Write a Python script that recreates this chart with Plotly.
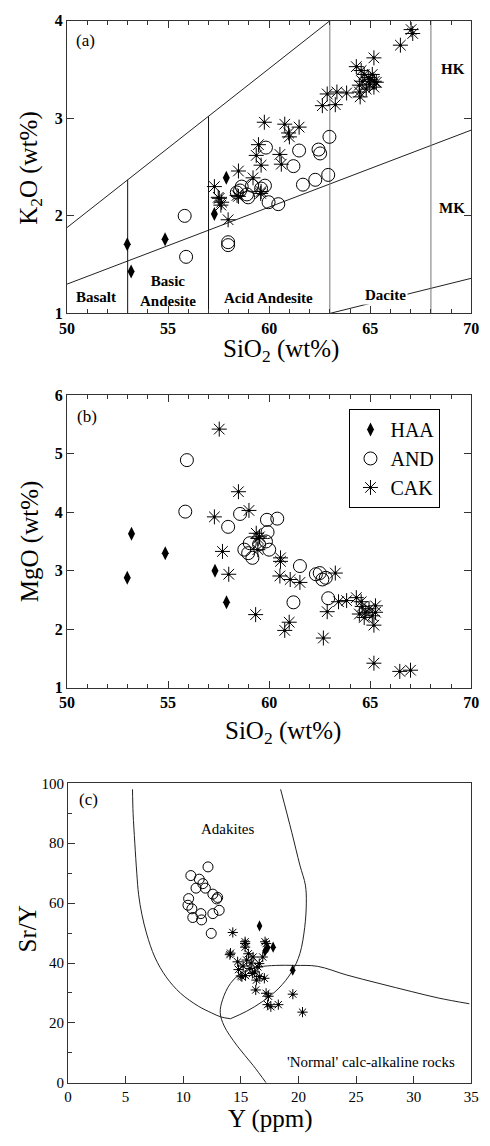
import plotly.graph_objects as go

# ---------------- Panel (a): K2O vs SiO2 ----------------
haa_a_sio2 = [57.88, 57.29, 52.98, 54.85, 53.17]
haa_a_k2o = [2.39, 2.02, 1.71, 1.76, 1.43]

and_a_sio2 = [59.84, 61.48, 62.44, 62.52, 62.98, 61.2, 61.67, 62.28, 62.92, 58.64, 59.15, 59.79,
              58.96, 58.56, 59.97, 58.4, 60.45, 55.82, 55.89, 57.97, 57.97, 58.9, 59.6]
and_a_k2o = [2.70, 2.67, 2.68, 2.64, 2.81, 2.51, 2.32, 2.37, 2.42, 2.30, 2.31, 2.31,
             2.19, 2.26, 2.14, 2.24, 2.12, 2.0, 1.58, 1.73, 1.70, 2.22, 2.28]

cak_a_sio2 = [67.02, 67.1, 66.49, 65.18, 64.31, 64.55, 64.7, 64.9, 65.0, 65.2,
              64.6, 64.95, 65.3, 65.18, 64.46, 64.46, 64.5, 63.83, 63.35, 62.87,
              62.63, 63.27, 59.76, 60.77, 61.48, 60.96, 61.0, 59.47, 59.36, 59.6,
              60.53, 60.6, 58.48, 59.2, 57.29, 57.48, 57.65, 58.41, 59.6, 57.53,
              57.61, 57.97, 58.48, 59.58, 65.1, 64.8]
cak_a_k2o = [3.91, 3.87, 3.75, 3.62, 3.53, 3.49, 3.45, 3.42, 3.40, 3.38,
             3.38, 3.35, 3.37, 3.32, 3.34, 3.27, 3.22, 3.26, 3.27, 3.25,
             3.13, 3.14, 2.96, 2.94, 2.91, 2.85, 2.81, 2.73, 2.62, 2.52,
             2.63, 2.53, 2.46, 2.39, 2.30, 2.19, 2.14, 2.21, 2.25, 2.18,
             2.11, 1.96, 2.20, 2.23, 3.45, 3.30]

# classification boundaries (a)
hk_upper_x = [50, 63]
hk_upper_y = [1.88, 4.0]
hk_mk_x = [50, 70]
hk_mk_y = [1.30, 2.88]
mk_low_x = [63, 70]
mk_low_y = [1.0, 1.36]
div_x = [53, 57, 63, 68]
div_top = [2.37, 3.02, 4.0, 4.0]
div_colors = ["#111", "#111", "#777", "#777"]

# ---------------- Panel (b): MgO vs SiO2 ----------------
haa_b_sio2 = [53.19, 54.86, 52.98, 57.32, 57.89]
haa_b_mgo = [3.63, 3.30, 2.88, 3.00, 2.46]

and_b_sio2 = [55.93, 55.85, 58.56, 57.97, 59.89, 60.4, 59.92, 58.77, 59.04, 58.96,
              60.0, 59.84, 59.17, 61.52, 62.31, 62.5, 62.63, 62.92, 61.2, 62.8, 59.5]
and_b_mgo = [4.89, 4.01, 3.97, 3.75, 3.87, 3.89, 3.66, 3.36, 3.47, 3.30,
             3.36, 3.50, 3.22, 3.08, 2.94, 2.96, 2.85, 2.53, 2.46, 2.88, 3.45]

cak_b_sio2 = [57.53, 58.48, 57.29, 59.0, 57.69, 59.36, 59.52, 59.44, 60.56, 58.0,
              59.33, 60.53, 60.56, 61.04, 61.52, 60.77, 60.99, 62.68, 62.87, 63.27,
              63.43, 63.83, 64.31, 64.55, 64.6, 64.46, 64.78, 64.94, 65.1, 65.26,
              65.26, 65.18, 64.7, 65.18, 66.46, 66.99, 59.45]
cak_b_mgo = [5.42, 4.35, 3.92, 4.03, 3.33, 3.64, 3.58, 3.36, 3.22, 2.94,
             2.25, 2.91, 3.16, 2.85, 2.80, 1.98, 2.12, 1.85, 2.30, 2.96,
             2.47, 2.49, 2.54, 2.47, 2.39, 2.26, 2.29, 2.35, 2.23, 2.40,
             2.29, 2.07, 2.20, 1.42, 1.28, 1.30, 3.55]

# ---------------- Panel (c): Sr/Y vs Y ----------------
haa_c_y = [16.62, 17.8, 17.32, 19.5, 17.1]
haa_c_sry = [52.4, 45.3, 45.1, 37.6, 44.0]

and_c_y = [12.15, 10.66, 11.39, 11.11, 11.92, 12.57, 12.99, 12.9, 10.47, 10.41, 10.75, 13.12,
           12.57, 11.53, 10.83, 11.59, 12.43, 11.7]
and_c_sry = [72.1, 69.2, 68.0, 65.0, 65.0, 63.0, 61.9, 61.4, 61.5, 59.3, 58.1, 57.6,
             56.5, 56.5, 55.2, 54.4, 49.9, 66.5]

cak_c_y = [14.3, 15.37, 15.37, 17.1, 17.2, 14.1, 14.05, 14.72, 14.8, 15.09,
           15.0, 15.37, 15.65, 16.06, 16.9, 15.79, 16.0, 16.35, 16.6, 16.48,
           16.6, 17.04, 16.29, 17.19, 17.4, 17.32, 17.6, 18.25, 19.51, 20.35,
           15.4, 15.2, 15.5, 15.9, 16.2]
cak_c_sry = [50.2, 47.1, 46.5, 47.1, 46.5, 43.3, 42.8, 40.4, 37.8, 35.4,
             35.7, 45.3, 43.1, 42.0, 42.0, 38.2, 36.5, 34.3, 35.5, 38.7,
             39.8, 34.9, 31.0, 29.9, 28.9, 26.1, 25.4, 26.1, 29.6, 23.6,
             35.8, 39.0, 41.0, 40.0, 37.0]

# field boundaries (c)
adak_left_y = [5.6, 5.65, 5.8, 5.97, 6.13, 6.41, 6.83, 7.53, 8.51, 9.77, 11.31, 12.43, 13.27, 14.1]
adak_left_sry = [98, 90, 80, 70, 62.8, 56.3, 49.7, 42.0, 35.4, 29.9, 25.6, 23.4, 22.0, 21.4]
adak_right_y = [14.1, 15.5, 16.9, 18.3, 19.42, 20.12, 20.54, 20.68, 20.6, 20.12, 19.42, 18.45]
adak_right_sry = [21.4, 23.9, 27.2, 31.6, 37.1, 43.1, 51.9, 60.0, 66.0, 72.7, 83.6, 98]
norm_y = [17.19, 16.07, 14.67, 13.55, 13.21, 13.41, 14.1, 15.22, 16.62, 18.03, 19.7, 21.66,
          24.18, 26.98, 29.78, 32.16, 34.82]
norm_sry = [0.0, 5.8, 12.4, 19.0, 23.4, 27.7, 33.2, 37.1, 38.7, 39.2, 39.2, 38.9,
            36.0, 33.2, 30.5, 28.3, 26.4]

SERIF = "Liberation Serif, serif"
fig = go.Figure()


def add_groups(xa, ya, haa, andd, cak, big, legend):
    suf = "" if xa == 1 else str(xa)
    xr, yr = "x" + suf, "y" + suf
    dsz = 10 if big else 8
    csz = 13 if big else 10
    ssz = 12.5 if big else 8.5
    fig.add_trace(go.Scatter(x=haa[0], y=haa[1], mode="markers", name="HAA", xaxis=xr, yaxis=yr,
                             showlegend=legend,
                             marker=dict(symbol="diamond-tall", size=dsz, color="black",
                                         line=dict(width=0))))
    fig.add_trace(go.Scatter(x=andd[0], y=andd[1], mode="markers", name="AND", xaxis=xr, yaxis=yr,
                             showlegend=legend,
                             marker=dict(symbol="circle-open", size=csz, color="black",
                                         line=dict(width=1, color="black"))))
    fig.add_trace(go.Scatter(x=cak[0], y=cak[1], mode="markers", name="CAK", xaxis=xr, yaxis=yr,
                             showlegend=legend,
                             marker=dict(symbol="asterisk-open", size=ssz, color="black",
                                         line=dict(width=1, color="black"))))
    fig.add_trace(go.Scatter(x=cak[0], y=cak[1], mode="markers", name="CAK", xaxis=xr, yaxis=yr,
                             showlegend=False, hoverinfo="skip",
                             marker=dict(symbol="circle", size=3, color="black")))


def add_line(xs, ys, xa, color="#222", smooth=False):
    suf = "" if xa == 1 else str(xa)
    line = dict(color=color, width=1)
    if smooth:
        line.update(shape="spline", smoothing=1.0)
    fig.add_trace(go.Scatter(x=xs, y=ys, mode="lines", xaxis="x" + suf, yaxis="y" + suf,
                             line=line, showlegend=False, hoverinfo="skip"))


# Panel (a) lines
add_line(hk_upper_x, hk_upper_y, 1)
add_line(hk_mk_x, hk_mk_y, 1)
add_line(mk_low_x, mk_low_y, 1)
for dx, dt, dc in zip(div_x, div_top, div_colors):
    add_line([dx, dx], [1, dt], 1, color=dc)

add_groups(1, 1, (haa_a_sio2, haa_a_k2o), (and_a_sio2, and_a_k2o), (cak_a_sio2, cak_a_k2o), True, False)
add_groups(2, 2, (haa_b_sio2, haa_b_mgo), (and_b_sio2, and_b_mgo), (cak_b_sio2, cak_b_mgo), True, True)

# Panel (c) lines
add_line(adak_left_y, adak_left_sry, 3, smooth=True)
add_line(adak_right_y, adak_right_sry, 3, smooth=True)
add_line(norm_y, norm_sry, 3, smooth=True)
add_groups(3, 3, (haa_c_y, haa_c_sry), (and_c_y, and_c_sry), (cak_c_y, cak_c_sry), False, False)

XD = [61 / 490, 479 / 490]
XDC = [62 / 490, 479 / 490]
H = 1146.0

bold_tick = dict(family=SERIF, size=16, color="black", weight="bold")
reg_tick = dict(family=SERIF, size=15, color="black")


def axis(domain, rng, dtick, minor=None, tickfont=bold_tick, mirror="ticks", anchor=None):
    d = dict(domain=domain, range=rng, dtick=dtick, tick0=rng[0], showgrid=False, zeroline=False,
             showline=True, linecolor="#333", linewidth=1, mirror=mirror, ticks="inside",
             ticklen=7, tickcolor="#333", tickwidth=1, tickfont=tickfont, anchor=anchor)
    if minor is not None:
        d["minor"] = dict(dtick=minor, ticks="inside", ticklen=4, tickcolor="#333", showgrid=False)
    return d


fig.update_layout(
    width=490, height=1146, margin=dict(l=0, r=0, t=0, b=0),
    paper_bgcolor="white", plot_bgcolor="white", showlegend=True,
    font=dict(family=SERIF, color="black"),
    xaxis=axis(XD, [50, 70], 5, minor=1, anchor="y"),
    yaxis=axis([1 - 310 / H, 1 - 13 / H], [1, 4], 1, anchor="x"),
    xaxis2=axis(XD, [50, 70], 5, minor=1, anchor="y2"),
    yaxis2=axis([1 - 690 / H, 1 - 393 / H], [1, 6], 1, anchor="x2"),
    xaxis3=axis(XDC, [0, 35], 5, tickfont=reg_tick, mirror=True, anchor="y3"),
    yaxis3=axis([1 - 1091 / H, 1 - 787 / H], [0, 100], 20, minor=10, tickfont=reg_tick,
                mirror=True, anchor="x3"),
    legend=dict(x=353 / 490, y=1 - 407 / H, xanchor="left", yanchor="top", bgcolor="white",
                bordercolor="black", borderwidth=1, itemwidth=30,
                font=dict(family=SERIF, size=20, color="black")),
)

ann = []
lab = dict(family=SERIF, size=15, color="black", weight="bold")
for txt, x, y in [("Basalt", 51.43, 1.17), ("Basic<br>Andesite", 54.98, 1.23),
                  ("Acid Andesite", 59.95, 1.16), ("HK", 69.09, 3.51), ("MK", 69.04, 2.08)]:
    ann.append(dict(text=txt, x=x, y=y, xref="x", yref="y", showarrow=False, font=lab))
ann.append(dict(text="Dacite", x=65.74, y=1.185, xref="x", yref="y", showarrow=False, font=lab,
                bgcolor="white"))
ann.append(dict(text="(a)", x=50.9, y=3.80, xref="x", yref="y", showarrow=False,
                font=dict(family=SERIF, size=17, color="black")))
ann.append(dict(text="(b)", x=51.0, y=5.63, xref="x2", yref="y2", showarrow=False,
                font=dict(family=SERIF, size=17, color="black")))
ann.append(dict(text="(c)", x=1.75, y=94.7, xref="x3", yref="y3", showarrow=False,
                font=dict(family=SERIF, size=17, color="black")))
ann.append(dict(text="Adakites", x=13.8, y=84.8, xref="x3", yref="y3", showarrow=False,
                font=dict(family=SERIF, size=15, color="black")))
ann.append(dict(text="'Normal' calc-alkaline rocks", x=26.3, y=7.1, xref="x3", yref="y3",
                showarrow=False, font=dict(family=SERIF, size=15, color="black")))

tf = dict(family=SERIF, size=25, color="black")
for txt, x, y, ang in [("SiO<sub>2</sub> (wt%)", 282 / 490, 1 - 348 / H, 0),
                       ("K<sub>2</sub>O (wt%)", 23 / 490, 1 - 162 / H, -90),
                       ("MgO (wt%)", 23 / 490, 1 - 541 / H, -90),
                       ("SiO<sub>2</sub> (wt%)", 284 / 490, 1 - 735 / H, 0),
                       ("Sr/Y", 20 / 490, 1 - 935 / H, -90),
                       ("Y (ppm)", 271 / 490, 1 - 1128 / H, 0)]:
    ann.append(dict(text=txt, x=x, y=y, xref="paper", yref="paper", showarrow=False,
                    textangle=ang, font=tf, xanchor="center", yanchor="middle"))
fig.update_layout(annotations=ann)

fig.write_html("out.html")
